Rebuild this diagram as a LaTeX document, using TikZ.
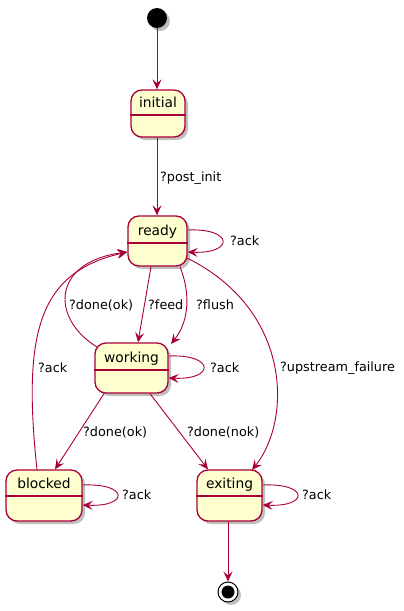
\documentclass[tikz,border=0pt]{standalone}
\usepackage{fontspec}
\setmainfont{DejaVu Sans}
\usetikzlibrary{shadows,arrows.meta}
\definecolor{umlred}{HTML}{A80036}
\definecolor{umlfill}{HTML}{FEFECE}
\tikzset{
  box/.style={draw=umlred,fill=umlfill,line width=1.3pt,rounded corners=11pt,
    drop shadow={shadow xshift=3pt,shadow yshift=-3pt,opacity=0.5},inner sep=0pt},
  ttl/.style={anchor=base,inner sep=0pt,font=\fontsize{13.8}{16}\selectfont},
  lbl/.style={anchor=west,inner sep=0pt,font=\fontsize{12.8}{15}\selectfont},
  edge/.style={draw=umlred,line width=0.9pt,-{Stealth[length=10pt,width=9pt,inset=4pt]}},
  dot/.style={circle,fill=black,inner sep=0pt,minimum size=20pt,
    drop shadow={shadow xshift=3pt,shadow yshift=-3pt,opacity=0.5}},
}
\newcommand{\statebox}[7]{% name, cx, cy, w, h, divider y, title
  \node[box,minimum width=#4pt,minimum height=#5pt] (#1) at (#2,#3) {};
  \draw[umlred,line width=1.1pt] (#1.west |- 0,#6) -- (#1.east |- 0,#6);
  \node[ttl] (#1t) at (#2,#6-8) {#7};
}
\begin{document}
\begin{tikzpicture}[x=1pt,y=-1pt]
\useasboundingbox (0,0) rectangle (404,611);
% start
\node[dot] (start) at (157,18) {};
% states
\statebox{initial}{158}{113.5}{54}{47}{115}{initial}
\statebox{ready}{157.5}{241}{59}{50}{243}{ready}
\statebox{working}{131.5}{368}{73}{50}{370}{working}
\statebox{blocked}{44}{495.5}{76}{51}{496}{blocked}
\statebox{exiting}{229.5}{495.5}{65}{51}{496}{exiting}
% end
\node[circle,draw=black,line width=1pt,fill=white,minimum size=20pt,inner sep=0pt,
  drop shadow={shadow xshift=3pt,shadow yshift=-3pt,opacity=0.5}] (end) at (228,592) {};
\node[circle,fill=black,minimum size=13pt,inner sep=0pt] (endin) at (end.center) {};
% edges
\draw[edge] (start) -- (initial.north -| start);
\draw[edge] (initial.south -| start) -- (ready.north -| start);
\draw[edge] (ready.east |- 0,230) .. controls (234,228) and (234,254) .. (ready.east |- 0,252);
\draw[edge] (ready.south -| 151,0) -- (working.north -| 138,0);
\draw[edge] (ready.south -| 180,0) .. controls (190,292) and (190,320) .. (171,344);
\draw[edge] (97,347) .. controls (50,318) and (52,262) .. (ready.west |- 0,252);
\draw[edge] (blocked.north -| 37,0) .. controls (22,330) and (40,272) .. (ready.west |- 0,252);
\draw[edge] (187,258) .. controls (292,310) and (292,420) .. (252,470);
\draw[edge] (working.east |- 0,356) .. controls (215,354) and (215,380) .. (working.east |- 0,378);
\draw[edge] (working.south -| 104,0) -- (blocked.north -| 55,0);
\draw[edge] (working.south -| 150,0) -- (exiting.north -| 208,0);
\draw[edge] (blocked.east |- 0,485) .. controls (129,483) and (129,507) .. (blocked.east |- 0,505);
\draw[edge] (exiting.east |- 0,485) .. controls (309,483) and (309,507) .. (exiting.east |- 0,505);
\draw[edge] (exiting.south -| end) -- (end);
% labels
\node[lbl] (l1) at (160,178) {?post\_init};
\node[lbl] (l2) at (230,241) {?ack};
\node[lbl] (l3) at (69,305) {?done(ok)};
\node[lbl] (l4) at (148,305) {?feed};
\node[lbl] (l5) at (196,305) {?flush};
\node[lbl] (l6) at (38,368) {?ack};
\node[lbl] (l7) at (210,368) {?ack};
\node[lbl] (l8) at (280,368) {?upstream\_failure};
\node[lbl] (l9) at (83,432) {?done(ok)};
\node[lbl] (l10) at (187,432) {?done(nok)};
\node[lbl] (l11) at (122,495) {?ack};
\node[lbl] (l12) at (302,495) {?ack};
\end{tikzpicture}
\end{document}
